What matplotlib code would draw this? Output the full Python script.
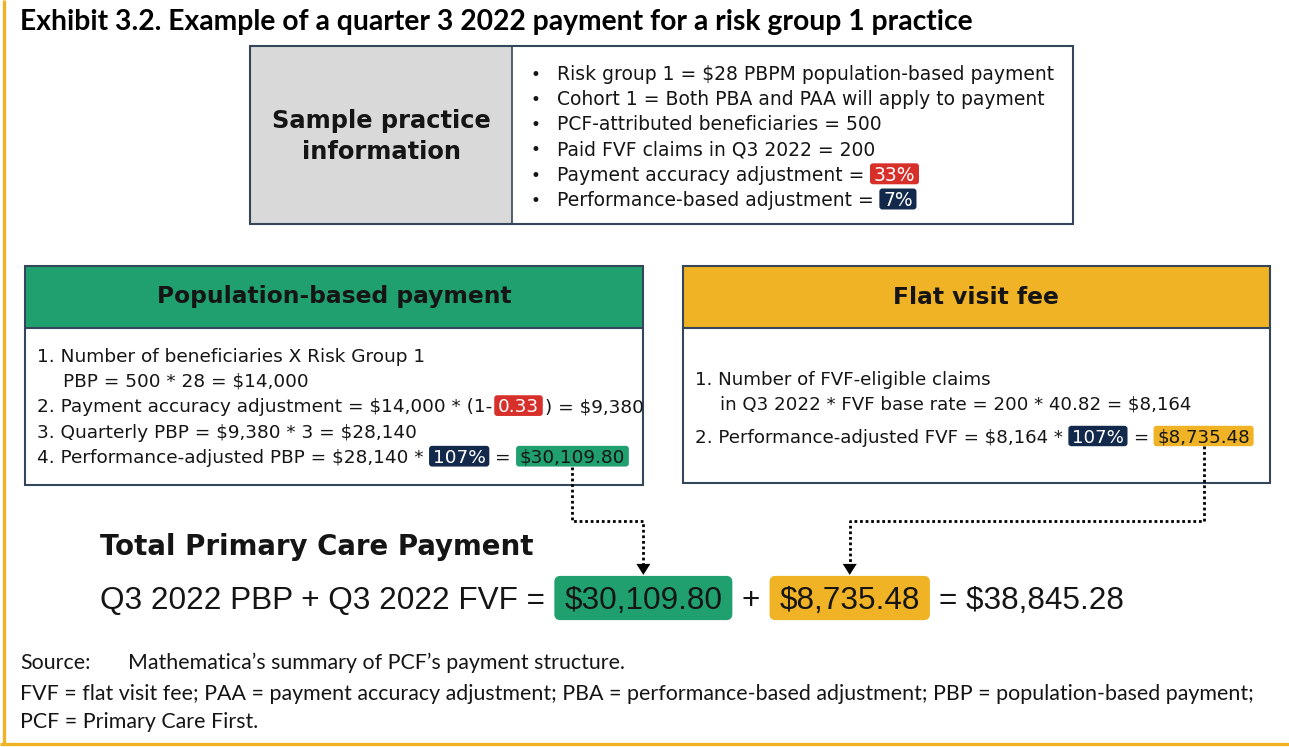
import matplotlib
matplotlib.use("Agg")
import matplotlib.pyplot as plt
from matplotlib.patches import Rectangle, FancyBboxPatch, Polygon

# ---- text content ----
title = "Exhibit 3.2. Example of a quarter 3 2022 payment for a risk group 1 practice"
info_label = ["Sample practice", "information"]
info_bullets = [
    [("Risk group 1 = $28 PBPM population-based payment", None)],
    [("Cohort 1 = Both PBA and PAA will apply to payment", None)],
    [("PCF-attributed beneficiaries = 500", None)],
    [("Paid FVF claims in Q3 2022 = 200", None)],
    [("Payment accuracy adjustment =", None), ("33%", "red")],
    [("Performance-based adjustment =", None), ("7%", "navy")],
]
pbp_title = "Population-based payment"
pbp_lines = [
    [("1. Number of beneficiaries X Risk Group 1", None)],
    [("PBP = 500 * 28 = $14,000", None)],
    [("2. Payment accuracy adjustment = $14,000 * (1-", None), ("0.33", "red"), (") = $9,380", None)],
    [("3. Quarterly PBP = $9,380 * 3 = $28,140", None)],
    [("4. Performance-adjusted PBP = $28,140 *", None), ("107%", "navy"), ("=", None), ("$30,109.80", "green")],
]
pbp_indent = [0, 1, 0, 0, 0]
fvf_title = "Flat visit fee"
fvf_lines = [
    [("1. Number of FVF-eligible claims", None)],
    [("in Q3 2022 * FVF base rate = 200 * 40.82 = $8,164", None)],
    [("2. Performance-adjusted FVF = $8,164 *", None), ("107%", "navy"), ("=", None), ("$8,735.48", "gold")],
]
fvf_indent = [0, 1, 0]
total_title = "Total Primary Care Payment"
total_line = [("Q3 2022 PBP + Q3 2022 FVF =", None), ("$30,109.80", "green"), ("+", None),
              ("$8,735.48", "gold"), ("= $38,845.28", None)]
source_label = "Source:"
source_text = "Mathematica\u2019s summary of PCF\u2019s payment structure."
notes = ["FVF = flat visit fee; PAA = payment accuracy adjustment; PBA = performance-based adjustment; "
         "PBP = population-based payment;",
         "PCF = Primary Care First."]

# ---- colours / fonts ----
GOLD = "#efb325"
GREEN = "#21a06f"
RED = "#d7302b"
NAVY = "#13294b"
EDGE = "#34465a"
GRAY = "#d9d9d9"
INK = "#151515"
BODY = "DejaVu Sans"
ARIAL = "Liberation Sans"
CAL = "Lato"
BADGES = {"red": (RED, "white"), "navy": (NAVY, "white"),
          "green": (GREEN, INK), "gold": (GOLD, INK)}

W, H = 1289, 747
fig = plt.figure(figsize=(W / 100, H / 100), dpi=100)
ax = fig.add_axes([0, 0, 1, 1])
ax.set_xlim(0, W)
ax.set_ylim(H, 0)
ax.axis("off")
rend = fig.canvas.get_renderer()


def txt(x, y, s, **kw):
    kw.setdefault("color", INK)
    return ax.text(x, y, s, parse_math=False, **kw)


def text_w(t):
    return t.get_window_extent(renderer=rend).width


def fit(s, family, weight, target):
    t = txt(0, 0, s, fontsize=20, family=family, weight=weight)
    w = text_w(t)
    t.remove()
    return 20 * target / w


def run(x, yc, parts, size, family=BODY, weight="normal", padx=None, hscale=1.12, rad=3):
    em = size * 100 / 72
    gap = 0.3 * em
    if padx is None:
        padx = 0.2 * em
    spans = []
    prev = ""
    for i, (s, key) in enumerate(parts):
        if i > 0:
            # brackets hug the badge in the original
            x += 2 if (prev.endswith("-") or s.startswith(")")) else gap
        prev = s
        if key is None:
            t = txt(x, yc + 0.5 * size, s, fontsize=size, family=family,
                    weight=weight, va="baseline", ha="left")
            x += text_w(t)
        else:
            fc, tc = BADGES[key]
            t = txt(x + padx, yc + 0.5 * size, s, fontsize=size, family=family,
                    weight=weight, color=tc, va="baseline", ha="left", zorder=4)
            w = text_w(t) + 2 * padx
            h = em * hscale
            ax.add_patch(FancyBboxPatch((x, yc - h / 2), w, h,
                                        boxstyle=f"round,pad=0,rounding_size={rad}",
                                        fc=fc, ec="none", zorder=2))
            spans.append((x, x + w, yc - h / 2, yc + h / 2))
            x += w
    return spans


# ---- outer gold frame ----
ax.plot([4, 4], [0, 744], color=GOLD, lw=2.4, solid_capstyle="butt")
ax.plot([0, W], [744, 744], color=GOLD, lw=2.4, solid_capstyle="butt")

# ---- title ----
ts = fit(title, CAL, "bold", 950)
txt(20, 22, title, fontsize=ts, family=CAL, weight="bold", color="black", va="center")

# ---- sample practice info box ----
ax.add_patch(Rectangle((250, 46), 262, 178, fc=GRAY, ec="none"))
ax.add_patch(Rectangle((250, 46), 823, 178, fc="none", ec=EDGE, lw=1.5))
ax.plot([512, 512], [46, 224], color=EDGE, lw=1.2)
ls = fit(info_label[0], BODY, "bold", 220)
txt(381, 121, info_label[0], fontsize=ls, family=BODY, weight="bold", ha="center", va="center")
txt(381, 152, info_label[1], fontsize=ls, family=BODY, weight="bold", ha="center", va="center")

bs = fit(info_bullets[0][0][0], BODY, "normal", 496)
for i, parts in enumerate(info_bullets):
    yc = 73 + i * 25.2
    txt(535, yc + 0.5 * bs, "\u2022", fontsize=bs * 0.9, family=BODY, ha="center", va="baseline")
    run(557, yc, parts, bs)

# ---- population-based payment box ----
hs = fit(pbp_title, BODY, "bold", 354)
ax.add_patch(Rectangle((25, 266), 618, 62, fc=GREEN, ec="none"))
ax.add_patch(Rectangle((25, 266), 618, 219, fc="none", ec=EDGE, lw=1.5))
ax.plot([25, 643], [328, 328], color=EDGE, lw=1.5)
txt(334, 297, pbp_title, fontsize=hs, family=BODY, weight="bold", ha="center", va="center")

ps = fit(pbp_lines[3][0][0], BODY, "normal", 381)
pbp_spans = []
for i, parts in enumerate(pbp_lines):
    yc = 355 + i * 25.3
    pbp_spans = run(37 + 26 * pbp_indent[i], yc, parts, ps) or pbp_spans

# ---- flat visit fee box ----
ax.add_patch(Rectangle((683, 266), 587, 62, fc=GOLD, ec="none"))
ax.add_patch(Rectangle((683, 266), 587, 217, fc="none", ec=EDGE, lw=1.5))
ax.plot([683, 1270], [328, 328], color=EDGE, lw=1.5)
txt(976, 297, fvf_title, fontsize=hs, family=BODY, weight="bold", ha="center", va="center")

fs = fit(fvf_lines[1][0][0], BODY, "normal", 472)
fvf_y = [378, 403, 436]
fvf_spans = []
for i, parts in enumerate(fvf_lines):
    fvf_spans = run(695 + 25 * fvf_indent[i], fvf_y[i], parts, fs) or fvf_spans

# ---- total ----
tts = fit(total_title, BODY, "bold", 433)
txt(100, 547, total_title, fontsize=tts, family=BODY, weight="bold", va="center")
qs = fit(total_line[0][0], ARIAL, "normal", 445)
tot_spans = run(100, 598, total_line, qs, family=ARIAL, padx=10, hscale=1.4, rad=6)


# ---- dotted connectors ----
def connector(src, dst, ymid):
    x0 = (src[0] + src[1]) / 2
    x1 = (dst[0] + dst[1]) / 2
    ytip = dst[2]
    ax.plot([x0, x0, x1, x1], [src[3], ymid, ymid, ytip - 11],
            color="black", lw=2, ls=(0, (1, 1)), solid_capstyle="butt")
    ax.add_patch(Polygon([[x1 - 7, ytip - 12], [x1 + 7, ytip - 12], [x1, ytip - 1]],
                         closed=True, fc="black", ec="none"))


connector(pbp_spans[-1], tot_spans[0], 521)
connector(fvf_spans[-1], tot_spans[1], 521)

# ---- footnotes ----
ns = fit(notes[0], CAL, "normal", 1230)
txt(20, 663, source_label, fontsize=ns, family=CAL, va="center")
txt(128, 663, source_text, fontsize=ns, family=CAL, va="center")
txt(20, 694, notes[0], fontsize=ns, family=CAL, va="center")
txt(20, 722, notes[1], fontsize=ns, family=CAL, va="center")

fig.savefig("out.png", dpi=100, facecolor="white")
